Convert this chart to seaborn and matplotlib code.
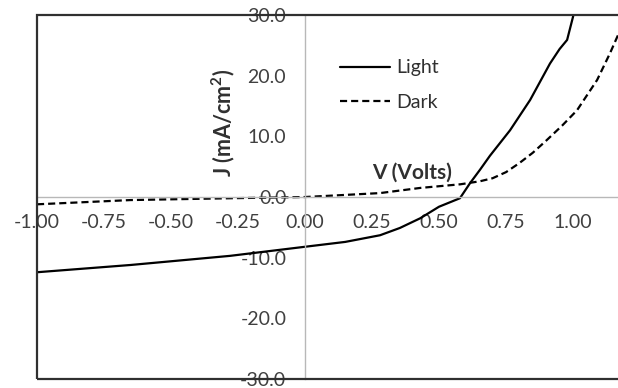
import matplotlib
matplotlib.use("Agg")
import matplotlib.pyplot as plt
import seaborn as sns
import pandas as pd
from matplotlib.patches import Rectangle

# Current density vs. voltage under illumination and in the dark
light_v = [-1.0, -0.65, -0.28, 0.0, 0.15, 0.28, 0.354, 0.43, 0.50, 0.578,
           0.616, 0.653, 0.69, 0.765, 0.84, 0.914, 0.95, 0.978, 1.0, 1.006]
light_j = [-12.4, -11.2, -9.7, -8.2, -7.4, -6.3, -5.1, -3.5, -1.6, -0.2,
           2.3, 4.5, 6.8, 11.0, 16.0, 22.0, 24.4, 25.9, 29.7, 31.0]

dark_v = [-1.0, -0.65, -0.28, 0.0, 0.28, 0.43, 0.58, 0.653, 0.70, 0.75,
          0.80, 0.85, 0.90, 0.96, 1.015, 1.09, 1.138, 1.168, 1.2]
dark_j = [-1.2, -0.5, -0.2, 0.0, 0.65, 1.5, 2.1, 2.6, 3.1, 4.1,
          5.6, 7.3, 9.3, 11.8, 14.3, 19.3, 23.7, 26.7, 30.5]

x_ticks = [-1.0, -0.75, -0.5, -0.25, 0.0, 0.25, 0.5, 0.75, 1.0]
y_ticks = [-30, -20, -10, 0, 10, 20, 30]

sns.set_style("white")
plt.rcParams["font.family"] = ["Lato", "DejaVu Sans"]

light = pd.DataFrame({"V": light_v, "J": light_j})
dark = pd.DataFrame({"V": dark_v, "J": dark_j})

fig = plt.figure(figsize=(6.18, 3.88), dpi=100)
ax = fig.add_axes([0.0599, 0.0232, 0.9757, 0.938])

sns.lineplot(data=light, x="V", y="J", ax=ax, color="black", lw=1.6,
             sort=False, label="Light")
sns.lineplot(data=dark, x="V", y="J", ax=ax, color="black", lw=1.6,
             sort=False, linestyle=(0, (3.2, 1.8)), label="Dark")

ax.set_xlim(-1.0, 1.25)
ax.set_ylim(-30, 30)

# Axes crossing at the origin
axis_grey = "#b8b8b8"
for side in ["top", "right"]:
    ax.spines[side].set_visible(False)
ax.spines["left"].set_position(("data", 0))
ax.spines["bottom"].set_position(("data", 0))
ax.spines["left"].set_color(axis_grey)
ax.spines["bottom"].set_color(axis_grey)
ax.spines["left"].set_linewidth(1.0)
ax.spines["bottom"].set_linewidth(1.0)

ax.set_xticks(x_ticks)
ax.set_xticklabels([f"{t:.2f}" for t in x_ticks])
ax.set_yticks(y_ticks)
ax.set_yticklabels([f"{t:.1f}" for t in y_ticks])
ax.tick_params(axis="x", direction="out", length=4.5, width=1, color=axis_grey,
               pad=8, labelsize=14, labelcolor="#404040")
ax.tick_params(axis="y", direction="out", length=4.5, width=1, color=axis_grey,
               pad=9, labelsize=14, labelcolor="#404040")
ax.set_xlabel("")
ax.set_ylabel("")

# Outer plot frame
ax.add_patch(Rectangle((0, 0), 1, 1, transform=ax.transAxes, fill=False,
                       edgecolor="#303030", lw=1.6, clip_on=False, zorder=5))

ax.text(-0.305, 12.3, "J (mA/cm$^\\mathregular{2}$)", rotation=90, ha="center",
        va="center", fontsize=15.5, fontweight="bold", color="#303030")
ax.text(0.40, 4.0, "V (Volts)", ha="center", va="center", fontsize=15,
        fontweight="bold", color="#303030")

leg = ax.legend(loc="upper left", bbox_to_anchor=(0.486, 0.905), frameon=False,
                borderpad=0, handlelength=2.6, handletextpad=0.3,
                labelspacing=0.9, fontsize=14)
for t in leg.get_texts():
    t.set_color("#303030")

fig.savefig("out.png", dpi=100)
